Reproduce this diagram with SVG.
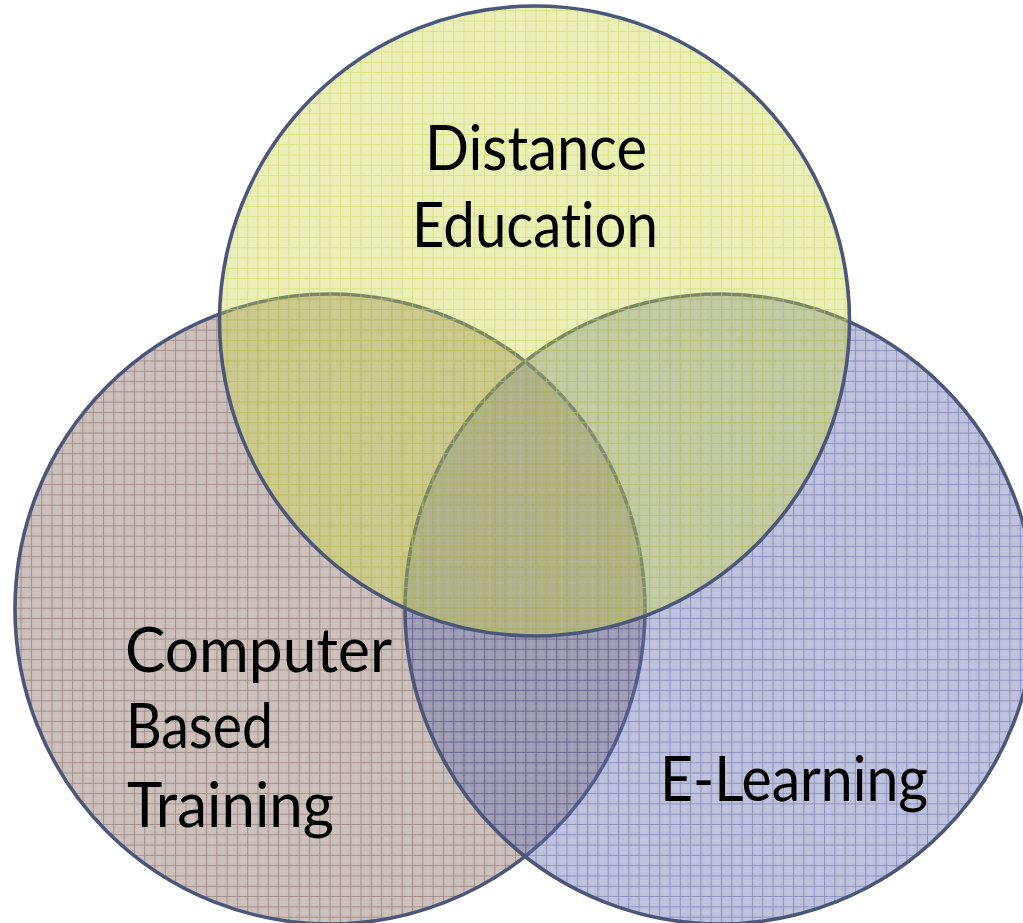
<svg xmlns="http://www.w3.org/2000/svg" width="1023" height="923" viewBox="0 0 1023 923">
<style>
.ring{stroke:#4b5679;stroke-width:3.6}
.lbl{font-family:Lato,"Open Sans","Liberation Sans",sans-serif;font-size:61px;fill:#000;font-variant-ligatures:none;font-feature-settings:"liga" 0,"clig" 0}
</style>
<defs>
<pattern id="gBrown" width="10.3" height="10.3" patternUnits="userSpaceOnUse">
<rect width="10.3" height="10.3" fill="#86665e" fill-opacity="0.42"/>
<path d="M0 0.5H10.3M0.5 0V10.3" stroke="#6a4a42" stroke-opacity="0.42" stroke-width="1"/>
<path d="M0 5.6H10.3M5.6 0V10.3" stroke="#ffffff" stroke-opacity="0.08" stroke-width="1"/>
</pattern>
<pattern id="gBlue" width="10.3" height="10.3" patternUnits="userSpaceOnUse">
<rect width="10.3" height="10.3" fill="#5a64aa" fill-opacity="0.40"/>
<path d="M0 0.5H10.3M0.5 0V10.3" stroke="#404a8c" stroke-opacity="0.40" stroke-width="1"/>
<path d="M0 5.6H10.3M5.6 0V10.3" stroke="#ffffff" stroke-opacity="0.08" stroke-width="1"/>
</pattern>
<pattern id="gYellow" width="10.3" height="10.3" patternUnits="userSpaceOnUse">
<rect width="10.3" height="10.3" fill="#c8d446" fill-opacity="0.38"/>
<path d="M0 0.5H10.3M0.5 0V10.3" stroke="#cdd650" stroke-opacity="0.55" stroke-width="1"/>
</pattern>
</defs>
<g id="node-cbt">
<circle class="ring" cx="330" cy="609" r="315" fill="url(#gBrown)"/>
</g>
<g id="node-elearning">
<circle class="ring" cx="720" cy="609" r="315" fill="url(#gBlue)"/>
</g>
<g id="node-distance">
<circle class="ring" cx="534.5" cy="321" r="315" fill="url(#gYellow)"/>
</g>
<g id="labels">
<text class="lbl" x="425" y="170" textLength="222" lengthAdjust="spacingAndGlyphs">Distance</text>
<text class="lbl" x="412" y="247" textLength="246" lengthAdjust="spacingAndGlyphs">Education</text>
<text class="lbl" x="125" y="672" textLength="267" lengthAdjust="spacingAndGlyphs">Computer</text>
<text class="lbl" x="126" y="748" textLength="147" lengthAdjust="spacingAndGlyphs">Based</text>
<text class="lbl" x="127" y="827" textLength="207" lengthAdjust="spacingAndGlyphs">Training</text>
<text class="lbl" x="660" y="801" textLength="268" lengthAdjust="spacingAndGlyphs">E-Learning</text>
</g>
<g id="connectors"/>
</svg>
